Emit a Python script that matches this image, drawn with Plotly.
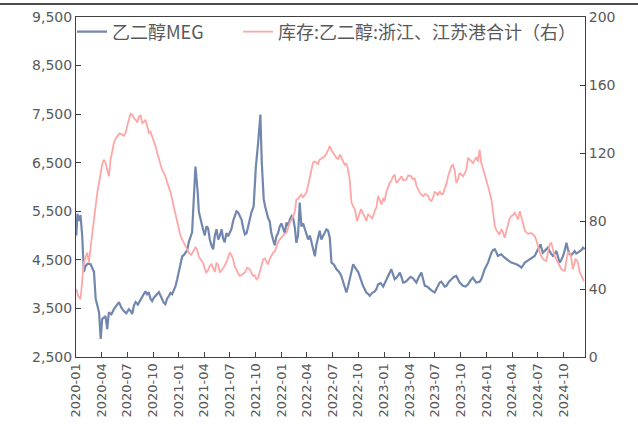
import plotly.graph_objects as go

# ---- MEG price (left axis): main readings ----
meg_dates = [
    "2020-01-02","2020-01-06","2020-01-11","2020-01-17","2020-01-23","2020-01-29","2020-02-04","2020-02-12",
    "2020-02-22","2020-03-05","2020-03-11","2020-03-23","2020-03-29","2020-04-03","2020-04-15","2020-04-21",
    "2020-04-27","2020-05-15","2020-06-02","2020-06-19","2020-07-07","2020-07-19","2020-07-31","2020-08-18",
    "2020-09-04","2020-09-16","2020-09-28","2020-10-10","2020-10-22","2020-11-02","2020-11-14","2020-11-26",
    "2020-12-08","2020-12-20","2021-01-01","2021-01-13","2021-01-25","2021-02-05","2021-02-17","2021-02-23",
    "2021-03-01","2021-03-09","2021-03-17","2021-03-28","2021-04-09","2021-04-21","2021-05-03","2021-05-15",
    "2021-05-21","2021-06-02","2021-06-13","2021-06-25","2021-07-07","2021-07-19","2021-07-31","2021-08-12",
    "2021-08-24","2021-09-04","2021-09-16","2021-09-24","2021-10-02","2021-10-10","2021-10-18","2021-10-23",
    "2021-10-30","2021-11-09","2021-11-20","2021-12-02","2021-12-14","2021-12-26","2022-01-07","2022-01-19",
    "2022-01-31","2022-02-12","2022-02-23","2022-03-07","2022-03-13","2022-03-25","2022-04-06","2022-04-18",
    "2022-04-23","2022-04-30","2022-05-11","2022-05-23","2022-06-04","2022-06-10","2022-06-22","2022-06-28",
    "2022-07-16","2022-08-02","2022-08-14","2022-08-20","2022-09-01","2022-09-13","2022-09-25","2022-10-06",
    "2022-10-18","2022-10-30","2022-11-11","2022-11-29","2022-12-11","2022-12-29","2023-01-15","2023-01-27",
    "2023-02-08","2023-02-26","2023-03-10","2023-03-28","2023-04-14","2023-04-26","2023-05-14","2023-05-26",
    "2023-06-12","2023-06-30","2023-07-18","2023-07-30","2023-08-11","2023-08-29","2023-09-15","2023-09-27",
    "2023-10-09","2023-10-27","2023-11-13","2023-11-25","2023-12-13","2023-12-25","2024-01-06","2024-01-18",
    "2024-01-30","2024-02-10","2024-02-22","2024-03-11","2024-03-29","2024-04-16","2024-05-04","2024-05-16",
    "2024-06-02","2024-06-20","2024-07-01","2024-07-11","2024-07-19","2024-08-06","2024-08-24","2024-09-05",
    "2024-09-17","2024-09-29","2024-10-11","2024-10-23","2024-11-03","2024-11-15","2024-11-27","2024-12-09",
    "2024-12-15",
]
meg_values = [
    5000, 5450, 5300, 5420, 5000, 4250, 4370, 4420,
    4410, 4250, 3700, 3420, 2870, 3280, 3340, 3075,
    3420, 3485, 3630, 3445, 3485, 3383, 3630, 3690,
    3855, 3834, 3650, 3752, 3834, 3690, 3588, 3752,
    3793, 3958, 4245, 4574, 4656, 4861, 5067, 5745,
    6420, 5887, 5395, 5130, 5190, 4920, 4715, 5130,
    4920, 5130, 4860, 4985, 5130, 5395, 5475, 5330,
    5025, 5190, 5475, 5600, 6420, 6910, 7490, 6500,
    5745, 5475, 5300, 4920, 4985, 5190, 5150, 5270,
    5334, 5350, 4850, 5680, 5190, 5130, 4920, 4860,
    4717, 4574, 4985, 4920, 5067, 5128, 4950, 4443,
    4306, 4170, 3964, 3828, 4101, 4409, 4306, 4170,
    3964, 3828, 3759, 3850, 3998, 3950, 4170, 4306,
    4101, 4238, 4033, 4101, 4120, 4033, 4238, 3964,
    3896, 3828, 4033, 3998, 3964, 4101, 4170, 4033,
    3964, 3998, 4135, 4033, 4101, 4306, 4443, 4648,
    4717, 4580, 4614, 4512, 4443, 4409, 4340, 4443,
    4512, 4580, 4717, 4820, 4648, 4751, 4580, 4683,
    4443, 4580, 4854, 4614, 4648, 4630, 4683, 4751,
    4720,
]
# ---- MEG price: in-between readings (short-term wiggles) ----
meg_detail_dates = [
    "2020-05-06","2020-05-24","2020-06-10","2020-06-28","2020-07-13","2020-07-25","2020-08-08","2020-08-27",
    "2020-09-10","2020-09-22","2020-10-04","2020-10-16","2020-10-28","2020-11-08","2020-11-20","2020-12-02",
    "2020-12-14","2020-12-26","2021-01-07","2021-01-19","2021-01-31","2021-02-11","2021-03-13","2021-03-22",
    "2021-04-03","2021-04-15","2021-04-27","2021-05-09","2021-05-27","2021-06-07","2021-06-19","2021-07-01",
    "2021-07-13","2021-07-25","2021-08-06","2021-08-18","2021-08-30","2021-09-10","2021-10-14","2021-10-26",
    "2021-11-04","2021-11-15","2021-11-26","2021-12-08","2021-12-20","2022-01-01","2022-01-13","2022-01-25",
    "2022-02-06","2022-02-18","2022-03-01","2022-03-19","2022-03-31","2022-04-12","2022-05-05","2022-05-17",
    "2022-05-29","2022-06-16","2022-07-07","2022-07-25","2022-08-08","2022-08-26","2022-09-07","2022-09-19",
    "2022-10-01","2022-10-12","2022-10-24","2022-11-05","2022-11-20","2022-12-05","2022-12-20","2023-01-06",
    "2023-01-21","2023-02-02","2023-02-17","2023-03-04","2023-03-19","2023-04-05","2023-04-20","2023-05-05",
    "2023-05-20","2023-06-03","2023-06-21","2023-07-09","2023-07-24","2023-08-05","2023-08-20","2023-09-06",
    "2023-09-21","2023-10-03","2023-10-18","2023-11-05","2023-11-19","2023-12-07","2023-12-19","2024-01-12",
    "2024-01-24","2024-02-05","2024-02-16","2024-03-02","2024-03-20","2024-04-07","2024-04-25","2024-05-10",
    "2024-05-25","2024-06-11","2024-06-26","2024-07-15","2024-07-28","2024-08-15","2024-08-30","2024-09-11",
    "2024-09-23","2024-10-05","2024-10-17","2024-10-29","2024-11-09","2024-11-21","2024-12-03",
]
meg_detail_values = [
    3380, 3560, 3520, 3400, 3450, 3560, 3580, 3760,
    3790, 3700, 3720, 3800, 3760, 3620, 3700, 3820,
    3880, 4100, 4450, 4600, 4700, 4950, 5500, 5250,
    5000, 5150, 4800, 5000, 5000, 4950, 5050, 5050,
    5300, 5500, 5400, 5150, 5050, 5350, 7200, 6100,
    5600, 5350, 5050, 4800, 5050, 5250, 5050, 5200,
    5400, 5150, 5000, 5250, 5000, 5000, 4800, 5100,
    4980, 5100, 4400, 4250, 4050, 3950, 4300, 4350,
    4250, 4050, 3900, 3800, 3820, 3900, 4020, 4050,
    4250, 4200, 4150, 4150, 4050, 4150, 4080, 4150,
    4100, 3950, 3860, 3950, 4050, 3950, 4050, 4150,
    4100, 4000, 3950, 4080, 4080, 4050, 4200, 4550,
    4700, 4650, 4600, 4560, 4480, 4430, 4380, 4390,
    4480, 4530, 4650, 4720, 4700, 4650, 4630, 4560,
    4500, 4700, 4700, 4600, 4680, 4650, 4700,
]

# ---- MEG port inventory, Zhejiang + Jiangsu (right axis): main readings ----
inv_dates = [
    "2020-01-02","2020-01-08","2020-01-17","2020-01-23","2020-01-29","2020-02-10","2020-02-16","2020-02-28",
    "2020-03-11","2020-03-23","2020-04-03","2020-04-15","2020-04-21","2020-04-27","2020-05-03","2020-05-15",
    "2020-05-27","2020-06-13","2020-06-25","2020-07-07","2020-07-19","2020-07-31","2020-08-12","2020-08-24",
    "2020-09-04","2020-09-16","2020-09-28","2020-10-10","2020-10-22","2020-11-02","2020-11-14","2020-11-26",
    "2020-12-08","2020-12-20","2021-01-01","2021-01-13","2021-01-25","2021-02-05","2021-02-23","2021-03-07",
    "2021-03-19","2021-03-28","2021-04-09","2021-04-21","2021-05-03","2021-05-15","2021-05-27","2021-06-13",
    "2021-07-01","2021-07-13","2021-07-25","2021-08-06","2021-08-24","2021-09-10","2021-09-22","2021-10-04",
    "2021-10-16","2021-10-28","2021-11-09","2021-11-20","2021-12-02","2021-12-14","2021-12-26","2022-01-07",
    "2022-01-19","2022-01-31","2022-02-12","2022-02-23","2022-03-07","2022-03-19","2022-03-31","2022-04-12",
    "2022-04-23","2022-05-05","2022-05-17","2022-06-04","2022-06-16","2022-06-22","2022-07-04","2022-07-16",
    "2022-07-28","2022-08-08","2022-08-20","2022-09-01","2022-09-07","2022-09-19","2022-09-27","2022-10-11",
    "2022-10-24","2022-11-11","2022-11-29","2022-12-11","2022-12-23","2023-01-03","2023-01-21","2023-02-02",
    "2023-02-14","2023-03-04","2023-03-22","2023-04-08","2023-04-20","2023-05-08","2023-05-20","2023-06-06",
    "2023-06-18","2023-07-06","2023-07-24","2023-08-05","2023-08-17","2023-08-29","2023-09-09","2023-09-15",
    "2023-09-27","2023-10-09","2023-10-21","2023-10-27","2023-11-08","2023-11-20","2023-12-01","2023-12-07",
    "2023-12-13","2023-12-25","2024-01-06","2024-01-18","2024-01-30","2024-02-10","2024-02-22","2024-03-05",
    "2024-03-17","2024-03-29","2024-04-10","2024-04-22","2024-04-28","2024-05-10","2024-05-22","2024-06-08",
    "2024-06-20","2024-07-01","2024-07-16","2024-07-31","2024-08-18","2024-08-30","2024-09-11","2024-09-23",
    "2024-10-05","2024-10-16","2024-10-26","2024-11-03","2024-11-12","2024-11-21","2024-12-03","2024-12-12",
]
inv_values = [
    40, 36, 34, 45.7, 55.5, 61.4, 55.5, 73.1,
    90.7, 102.5, 113.2, 114.2, 110.3, 106.3, 116.1, 125.9,
    129.8, 130.8, 131.8, 139.6, 142.5, 139.6, 141.5, 137.6,
    139.6, 131.8, 129.8, 123.9, 116.1, 110.3, 106.3, 100.5,
    92.7, 84.9, 75.1, 69.2, 65.3, 61.4, 62.4, 63.3,
    57.5, 55.5, 49.7, 53.6, 51.6, 55.5, 49.7, 53.6,
    61.4, 57.5, 51.6, 47.7, 49.7, 51.6, 47.7, 45.7,
    49.7, 57.5, 55.5, 57.5, 61.4, 65.3, 69.2, 71.2,
    73.1, 79.0, 82.9, 92.7, 94.6, 94.0, 96.6, 106.3,
    114.2, 114.0, 116.1, 118.1, 122.0, 124.0, 120.0, 117.0,
    119.0, 115.0, 114.0, 104.0, 91.0, 87.0, 80.0, 87.0,
    82.0, 83.0, 86.0, 94.6, 89.7, 91.7, 102.5, 106.3,
    102.5, 106.3, 104.4, 106.3, 105.0, 96.6, 94.6, 95.0,
    91.7, 96.6, 95.6, 98.5, 106.3, 112.3, 110.0, 102.5,
    108.3, 106.3, 110.3, 117.1, 115.1, 116.1, 115.0, 122.0,
    114.2, 108.3, 100.5, 92.7, 77.0, 73.1, 75.1, 70.2,
    79.0, 82.9, 84.9, 80.9, 85.8, 77.0, 73.1, 73.0,
    71.2, 65.3, 58.5, 56.5, 67.3, 59.5, 55.5, 51.6,
    50.6, 61.4, 60.4, 51.6, 57.5, 55.5, 47.7, 44.7,
]
# ---- inventory: in-between readings ----
inv_detail_dates = [
    "2020-03-05","2020-03-17","2020-03-29","2020-04-09","2020-05-09","2020-05-21","2020-06-04","2020-06-19",
    "2020-07-01","2020-07-13","2020-07-25","2020-08-06","2020-08-18","2020-08-30","2020-09-10","2020-09-22",
    "2020-10-04","2020-10-16","2020-10-28","2020-11-08","2020-11-20","2020-12-02","2020-12-14","2020-12-26",
    "2021-01-07","2021-01-19","2021-01-31","2021-02-14","2021-03-01","2021-03-13","2021-04-03","2021-04-15",
    "2021-04-27","2021-05-09","2021-05-21","2021-06-04","2021-06-22","2021-07-07","2021-07-19","2021-07-31",
    "2021-08-15","2021-09-01","2021-09-16","2021-09-28","2021-10-10","2021-10-22","2021-11-03","2021-11-14",
    "2021-11-26","2021-12-08","2021-12-20","2022-01-01","2022-01-13","2022-01-25","2022-02-06","2022-02-18",
    "2022-03-01","2022-03-13","2022-03-25","2022-04-06","2022-04-18","2022-04-29","2022-05-11","2022-05-26",
    "2022-06-10","2022-06-28","2022-07-10","2022-07-22","2022-08-02","2022-08-14","2022-08-26","2022-09-13",
    "2022-10-03","2022-10-17","2022-10-30","2022-11-05","2022-11-20","2022-12-05","2022-12-17","2022-12-29",
    "2023-01-09","2023-01-27","2023-02-08","2023-02-20","2023-03-10","2023-03-28","2023-04-14","2023-04-26",
    "2023-05-14","2023-05-28","2023-06-12","2023-06-24","2023-06-30","2023-07-12","2023-07-18","2023-07-30",
    "2023-08-11","2023-08-23","2023-09-03","2023-09-21","2023-10-03","2023-10-15","2023-11-02","2023-11-14",
    "2023-11-26","2023-12-19","2023-12-31","2024-01-12","2024-01-24","2024-02-05","2024-02-16","2024-02-28",
    "2024-03-11","2024-03-23","2024-04-04","2024-04-16","2024-05-04","2024-05-16","2024-05-30","2024-06-14",
    "2024-06-26","2024-07-08","2024-07-23","2024-08-07","2024-08-12","2024-08-24","2024-09-05","2024-09-17",
    "2024-09-29","2024-10-11","2024-10-21","2024-10-30","2024-11-08","2024-11-16","2024-11-27","2024-12-08",
]
inv_detail_values = [
    82, 97, 109, 116, 121, 128.5, 131.5, 130,
    135, 143, 140.5, 138, 142, 138.5, 136, 132.5,
    127, 120, 112, 108.5, 103, 97, 88, 79,
    71, 67, 63, 60, 64.5, 59, 52, 51,
    54.5, 50, 54, 51.5, 57, 60, 53, 49,
    48.5, 52.5, 49.5, 48, 46.5, 53, 58, 54.5,
    59.5, 62, 67.5, 70.5, 72.5, 76.5, 81, 86,
    93, 95.5, 95, 101, 111, 115, 113.5, 117,
    119.5, 121.5, 118, 116.5, 117.5, 113, 110, 88.5,
    83, 85, 80, 84, 81.5, 88, 92, 93.5,
    97, 103.5, 107, 103.5, 104, 106.8, 104.5, 101,
    95.5, 96, 92.5, 93.5, 97, 95, 97.5, 96,
    102, 109, 113, 104.5, 107.5, 108, 116, 114,
    117.5, 111, 104.5, 96.5, 85, 74.5, 72, 73.5,
    74.5, 81.5, 83.5, 83, 81.5, 74.5, 72.5, 72,
    68.5, 61.5, 57, 62, 66, 62.5, 57.5, 53,
    51, 57, 61.5, 56, 55, 57, 50, 46,
]

tick_dates = [f"{y}-{m:02d}-01" for y in range(2020, 2025) for m in (1, 4, 7, 10)]
tick_labels = [f"{y}-{m:02d}" for y in range(2020, 2025) for m in (1, 4, 7, 10)]

meg_pts = sorted(zip(meg_dates + meg_detail_dates, meg_values + meg_detail_values))
inv_pts = sorted(zip(inv_dates + inv_detail_dates, inv_values + inv_detail_values))

GREY = "#595959"
AXIS = "#404040"
TICKFONT = "DejaVu Sans, Verdana, sans-serif"
LEGFONT = "Noto Sans CJK SC, sans-serif"

fig = go.Figure()
fig.add_trace(go.Scatter(
    x=[d for d, _ in meg_pts], y=[v for _, v in meg_pts], mode="lines", name="乙二醇MEG",
    line=dict(color="#7287AE", width=2.2), yaxis="y", legend="legend"))
fig.add_trace(go.Scatter(
    x=[d for d, _ in inv_pts], y=[v for _, v in inv_pts], mode="lines",
    name="库存:乙二醇:浙江、江苏港合计（右）",
    line=dict(color="#FFA6A6", width=1.8), yaxis="y2", legend="legend2"))

W, H = 638, 425
L, R, T, B = 76, 53, 17, 68
pw, ph = W - L - R, H - T - B
LEG_Y = 1 - (32 - T) / ph

fig.update_layout(
    width=W, height=H,
    margin=dict(l=L, r=R, t=T, b=B, autoexpand=False),
    paper_bgcolor="white", plot_bgcolor="white",
    font=dict(family=TICKFONT, color=GREY, size=13),
    showlegend=True,
    legend=dict(x=(72 - L) / pw, y=LEG_Y, xanchor="left", yanchor="middle",
                bgcolor="rgba(0,0,0,0)", font=dict(family=LEGFONT, size=18, color=GREY)),
    legend2=dict(x=(238 - L) / pw, y=LEG_Y, xanchor="left", yanchor="middle",
                 bgcolor="rgba(0,0,0,0)", font=dict(family=LEGFONT, size=18, color=GREY)),
    xaxis=dict(
        type="date", range=["2020-01-01", "2024-12-16"],
        tickmode="array", tickvals=tick_dates, ticktext=tick_labels,
        tickangle=-90, tickfont=dict(size=13, color=GREY, family=TICKFONT),
        ticks="inside", ticklen=5, tickcolor=AXIS,
        showline=True, linecolor=AXIS, linewidth=1, mirror=True,
        showgrid=False, zeroline=False),
    yaxis=dict(
        range=[2500, 9500], dtick=1000, tick0=2500, tickformat=",",
        ticks="inside", ticklen=5, tickcolor=AXIS,
        tickfont=dict(size=14, color=GREY, family=TICKFONT),
        showline=True, linecolor=AXIS, linewidth=1,
        showgrid=False, zeroline=False),
    yaxis2=dict(
        range=[0, 200], dtick=40, overlaying="y", side="right",
        ticks="inside", ticklen=5, tickcolor=AXIS,
        tickfont=dict(size=14, color=GREY, family=TICKFONT),
        showline=True, linecolor=AXIS, linewidth=1,
        showgrid=False, zeroline=False),
    shapes=[dict(type="line", xref="paper", yref="paper",
                 x0=-L / pw, x1=(W - L) / pw, y0=1 + (T - 4) / ph, y1=1 + (T - 4) / ph,
                 line=dict(color="#111111", width=1.5))],
)

fig.write_html("out.html", config={"displayModeBar": False},
               post_script="document.body.style.margin='0';document.body.style.overflow='hidden';")
